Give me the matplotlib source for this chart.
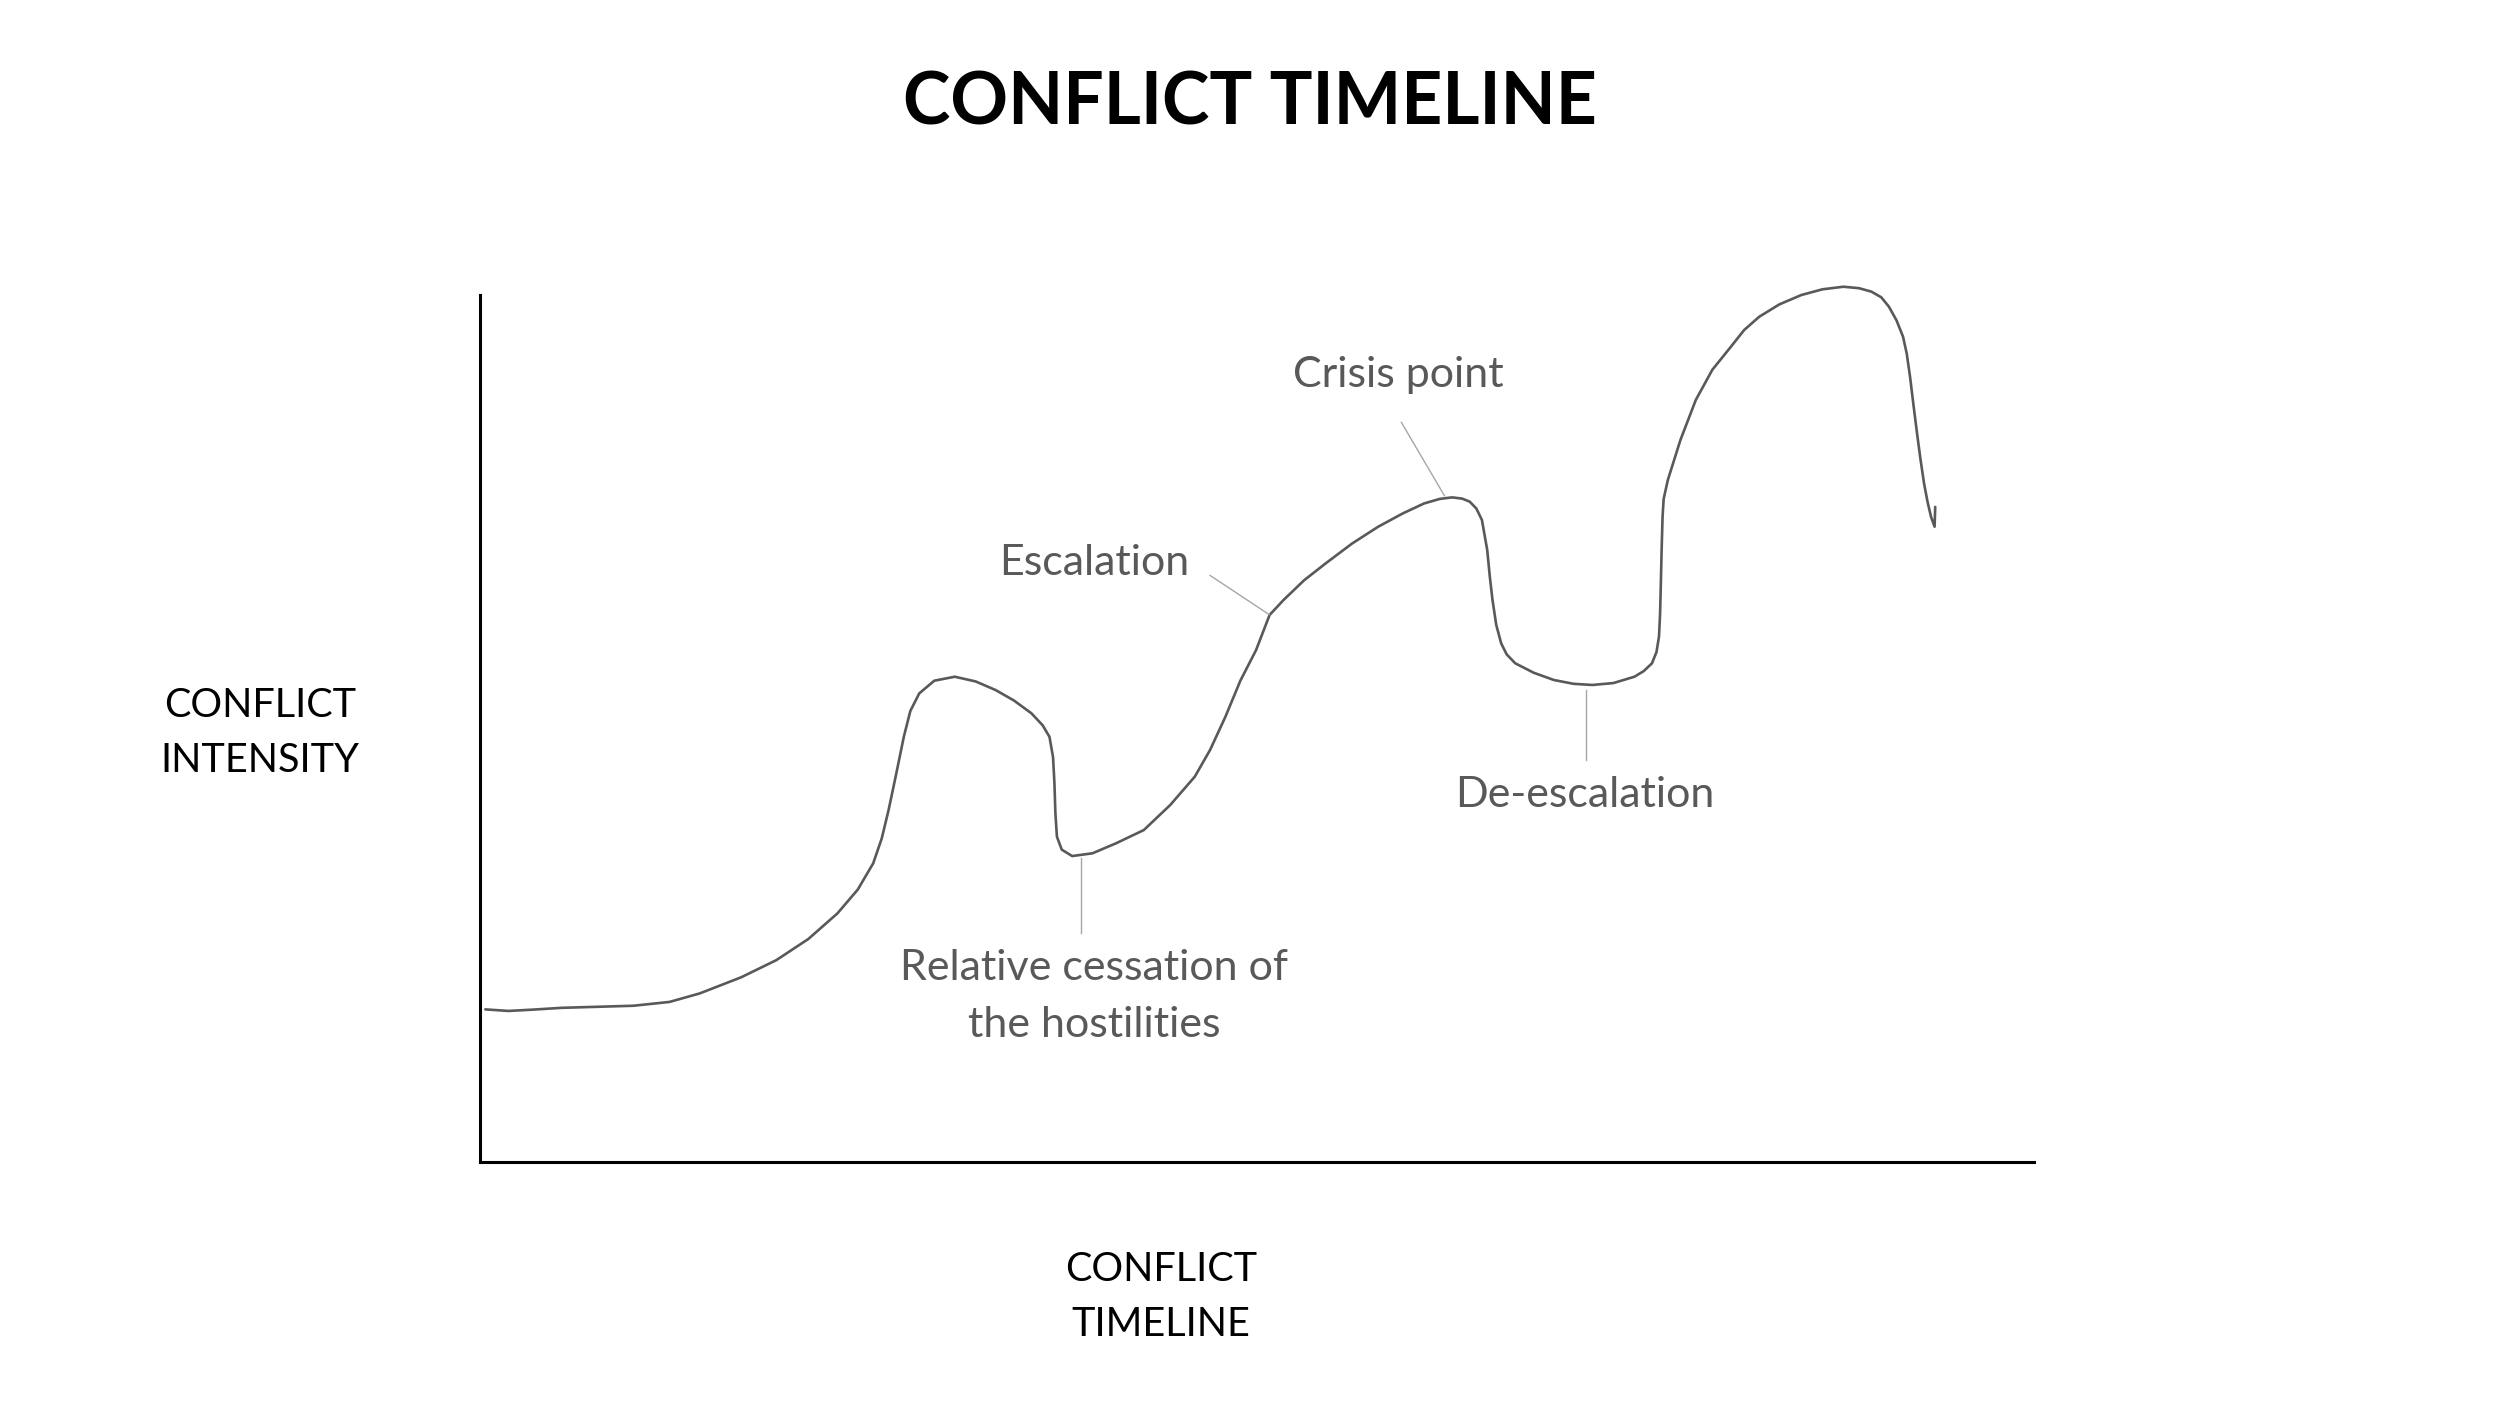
import numpy as np
import matplotlib
matplotlib.use("Agg")
import matplotlib.pyplot as plt

plt.rcParams['font.family'] = ['Lato', 'DejaVu Sans']

# hand-drawn intensity curve (time 0-100, intensity 0-100)
time = [0.35, 1.84, 3.49, 5.27, 9.88, 12.20, 14.14, 16.82, 19.07, 21.13,
        23.00, 24.31, 25.30, 25.85, 26.29, 26.77, 27.27, 27.69, 28.26, 29.23,
        30.55, 31.90, 33.18, 34.36, 35.48, 36.20, 36.64, 36.87, 36.96, 37.02,
        37.12, 37.43, 38.10, 39.41, 40.92, 42.71, 44.41, 45.99, 46.97, 47.96,
        48.92, 49.93, 50.80, 51.70, 53.02, 54.41, 56.10, 57.79, 59.38, 60.74,
        61.74, 62.54, 63.18, 63.67, 64.10, 64.46, 64.80, 64.97, 65.14, 65.38,
        65.70, 66.05, 66.60, 67.79, 69.09, 70.36, 71.57, 72.92, 74.27, 74.87,
        75.40, 75.69, 75.85, 75.92, 75.97, 76.02, 76.08, 76.15, 76.42, 77.23,
        78.22, 79.28, 80.48, 81.33, 82.30, 83.59, 85.00, 86.36, 87.71, 88.72,
        89.52, 90.15, 90.64, 91.13, 91.55, 91.79, 92.00, 92.22, 92.45, 92.67,
        92.90, 93.13, 93.35, 93.58, 93.60, 93.62]
intensity = [17.61, 17.43, 17.59, 17.79, 18.03, 18.47, 19.45, 21.32, 23.29, 25.73,
             28.68, 31.43, 34.45, 37.32, 40.59, 44.67, 49.04, 52.02, 54.04, 55.51,
             55.97, 55.42, 54.43, 53.22, 51.75, 50.37, 49.04, 46.69, 43.68, 40.26,
             37.52, 36.03, 35.29, 35.61, 36.76, 38.29, 41.18, 44.45, 47.52, 51.36,
             55.51, 59.04, 63.09, 64.82, 67.09, 69.04, 71.32, 73.27, 74.81, 75.95,
             76.47, 76.65, 76.51, 76.16, 75.37, 74.04, 70.59, 67.46, 64.82, 61.95,
             59.81, 58.55, 57.52, 56.43, 55.59, 55.15, 55.02, 55.24, 55.97, 56.62,
             57.52, 58.82, 60.59, 63.23, 66.75, 70.59, 74.41, 76.47, 78.66, 83.27,
             87.89, 91.36, 94.03, 95.95, 97.48, 98.90, 99.98, 100.64, 100.94, 100.77,
             100.37, 99.72, 98.64, 97.06, 95.18, 93.20, 90.57, 87.31, 84.04, 81.07,
             78.27, 76.10, 74.41, 73.27, 74.45, 75.55]

labels = ["Crisis point", "Escalation", "De-escalation",
          "Relative cessation of\nthe hostilities"]
label_xy = [(59.08, 90.81), (39.49, 69.12), (71.08, 42.28), (39.49, 19.12)]
leaders = [((59.28, 85.29), (62.05, 76.84)),
           ((46.97, 67.65), (50.77, 63.14)),
           ((71.18, 54.41), (71.18, 46.32)),
           ((38.67, 35.11), (38.67, 26.47))]

fig = plt.figure(figsize=(25, 14.06), dpi=100)
ax = fig.add_axes([0.19196, 0.17347, 0.6218, 0.6168])
ax.set_xlim(0, 100)
ax.set_ylim(0, 100)
for s in ['top', 'right']:
    ax.spines[s].set_visible(False)
for s in ['left', 'bottom']:
    ax.spines[s].set_linewidth(2.2)
    ax.spines[s].set_color('black')
ax.set_xticks([])
ax.set_yticks([])

ax.plot(time, intensity, color='#595959', lw=1.9, clip_on=False,
        solid_joinstyle='round', solid_capstyle='round')

for txt, (x, y), (p0, p1) in zip(labels, label_xy, leaders):
    ax.text(x, y, txt, ha='center', va='center', fontsize=31, color='#595959',
            linespacing=1.6)
    ax.plot([p0[0], p1[0]], [p0[1], p1[1]], color='#a6a6a6', lw=1.0)

fig.text(0.5, 0.926, "CONFLICT TIMELINE", ha='center', va='center',
         fontsize=51.5, fontweight='bold', color='black')
fig.text(0.104, 0.479, "CONFLICT\nINTENSITY", ha='center', va='center',
         fontsize=28.5, color='black', linespacing=1.6)
fig.text(0.4643, 0.0775, "CONFLICT\nTIMELINE", ha='center', va='center',
         fontsize=28.5, color='black', linespacing=1.6)

fig.savefig('out.png', dpi=100, facecolor='white')
